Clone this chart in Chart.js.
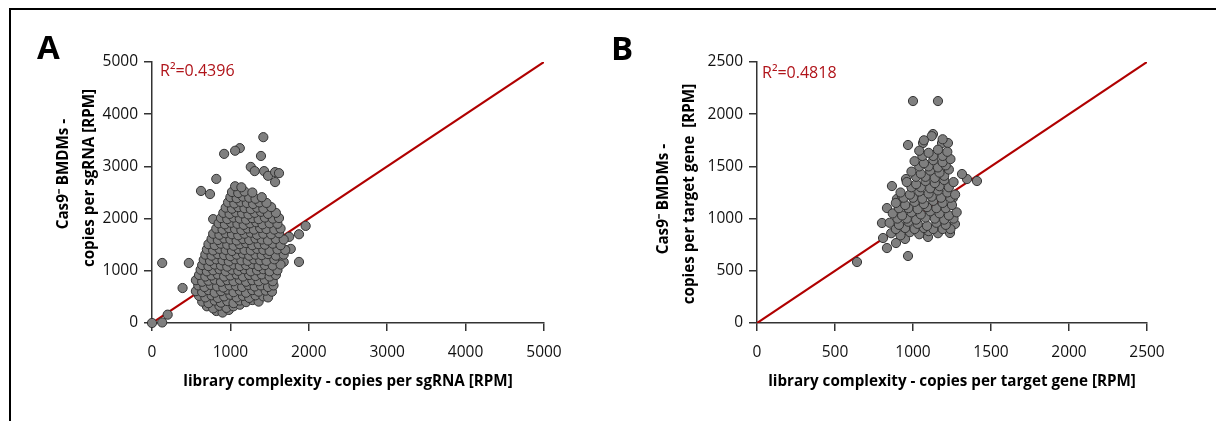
<!DOCTYPE html>
<html>
<head>
<meta charset="utf-8">
<script src="https://cdn.jsdelivr.net/npm/chart.js@4.4.0/dist/chart.umd.min.js"></script>
<style>
  body { margin: 0; width: 1216px; height: 421px; overflow: hidden; background: #fff; position: relative; font-family: "Open Sans", sans-serif; }
  #frame { position: absolute; left: 9px; top: 8px; width: 1300px; height: 500px; border-top: 2px solid #000; border-left: 2px solid #000; }
  canvas { position: absolute; top: 0; }
  #chartA { left: 0; }
  #chartB { left: 606px; }
  .letter { position: absolute; font: bold 33px/1 "Open Sans", sans-serif; color: #000; }
  .r2 { position: absolute; font: 16px/1 "Open Sans", sans-serif; color: #b0141a; white-space: nowrap; }
  .ytitle { position: absolute; font: bold 15.2px/1 "Open Sans", sans-serif; color: #000; white-space: nowrap;
            transform: translate(-50%, -50%) rotate(-90deg); }
</style>
</head>
<body>
<div id="frame"></div>
<canvas id="chartA" width="606" height="421"></canvas>
<canvas id="chartB" width="610" height="421"></canvas>
<div class="letter" style="left:37px;top:30px">A</div>
<div class="letter" style="left:611px;top:31px">B</div>
<div class="r2" style="left:160px;top:62px">R²=0.4396</div>
<div class="r2" style="left:762px;top:64px">R²=0.4818</div>
<div class="ytitle" style="left:63px;top:174px">Cas9⁻ BMDMs -</div>
<div class="ytitle" style="left:89px;top:178px">copies per sgRNA [RPM]</div>
<div class="ytitle" style="left:663px;top:199px">Cas9⁻ BMDMs -</div>
<div class="ytitle" style="left:689px;top:194px">copies per target gene&nbsp; [RPM]</div>
<script>
// panel A: copies per sgRNA [RPM], pairs of [library, Cas9- BMDMs]
const sgrnaPoints = [
  [0,0],[130,10],[200,160],[130,1150],[470,1150],[390,670],
  [1420,3560],[1120,3350],[1060,3300],[920,3240],[1390,3200],
  [1260,2990],[1310,2910],[1430,2910],[1480,2820],[1570,2890],[1620,2870],[1570,2700],
  [820,2760],[625,2530],[740,2470],[780,1990],[1960,1860],[1875,1700],[1875,1170],[1770,1420],[1750,1650],[1680,1170],
  [820,230],[900,200],[980,250],
  [700,320],[780,280],[860,330],[950,290],[1040,320],[1120,350],
  [640,410],[720,380],[800,430],[880,390],[960,420],[1040,380],[1120,430],[1200,400],[1280,440],[1360,410],
  [600,520],[680,490],[760,530],[840,480],[920,510],[1000,540],[1080,490],[1160,520],[1240,480],[1320,530],[1420,510],[1480,490],
  [560,610],[640,590],[720,630],[800,580],[880,610],[960,640],[1040,590],[1120,620],[1200,580],[1280,630],[1360,600],[1450,620],[1530,600],
  [590,720],[670,690],[750,730],[830,700],[910,680],[990,720],[1070,710],[1150,690],[1230,730],[1310,700],[1390,720],[1480,690],[1550,720],
  [560,820],[640,790],[720,810],[800,830],[880,790],[960,820],[1040,800],[1120,830],[1200,790],[1280,820],[1360,800],[1440,830],[1540,800],
  [600,920],[680,890],[760,910],[840,930],[920,890],[1000,910],[1080,930],[1160,890],[1240,920],[1320,900],[1400,930],[1500,890],[1580,920],
  [620,1020],[700,990],[780,1010],[860,1030],[940,990],[1020,1020],[1100,1000],[1180,1030],[1260,990],[1340,1010],[1420,1030],[1500,990],[1600,1010],
  [640,1110],[720,1090],[800,1120],[880,1100],[960,1080],[1040,1120],[1120,1090],[1200,1110],[1280,1130],[1360,1090],[1440,1110],[1540,1100],[1640,1120],
  [660,1210],[740,1190],[820,1220],[900,1200],[980,1180],[1060,1220],[1140,1200],[1220,1190],[1300,1220],[1380,1200],[1460,1190],[1560,1220],
  [680,1310],[760,1290],[840,1320],[920,1300],[1000,1280],[1080,1310],[1160,1330],[1240,1290],[1320,1310],[1400,1300],[1480,1320],[1580,1290],[1680,1310],
  [700,1410],[780,1390],[860,1420],[940,1400],[1020,1380],[1100,1420],[1180,1400],[1260,1390],[1340,1420],[1420,1400],[1500,1380],[1600,1410],[1700,1400],
  [720,1510],[800,1490],[880,1520],[960,1500],[1040,1480],[1120,1510],[1200,1530],[1280,1490],[1360,1510],[1440,1500],[1540,1520],[1640,1490],
  [760,1610],[840,1590],[920,1620],[1000,1600],[1080,1580],[1160,1610],[1240,1590],[1320,1620],[1400,1600],[1480,1580],[1580,1610],[1680,1600],
  [780,1710],[860,1690],[940,1720],[1020,1700],[1100,1680],[1180,1710],[1260,1730],[1340,1690],[1420,1710],[1520,1700],[1620,1720],
  [820,1810],[900,1790],[980,1820],[1060,1800],[1140,1780],[1220,1810],[1300,1790],[1380,1820],[1460,1800],[1560,1790],[1640,1810],
  [850,1910],[930,1890],[1010,1920],[1090,1900],[1170,1880],[1250,1910],[1330,1930],[1410,1890],[1500,1910],[1600,1900],
  [880,2010],[960,1990],[1040,2020],[1120,2000],[1200,1980],[1280,2010],[1360,1990],[1440,2020],[1540,2000],[1620,2010],
  [910,2110],[990,2090],[1070,2120],[1150,2100],[1230,2080],[1310,2110],[1390,2130],[1480,2090],[1580,2110],
  [940,2210],[1020,2190],[1100,2220],[1180,2200],[1260,2180],[1340,2210],[1420,2190],[1520,2220],
  [970,2310],[1050,2290],[1130,2320],[1210,2300],[1290,2280],[1370,2310],[1460,2300],
  [1000,2410],[1080,2390],[1160,2420],[1240,2400],[1320,2380],[1400,2410],
  [1020,2510],[1100,2490],[1180,2520],[1280,2500],
  [1060,2620],[1140,2600]
];

// panel B: copies per target gene [RPM]
const genePoints = [
  [1000,2126],[1160,2126],[1128,1810],[1120,1790],[968,1705],[1064,1724],[1186,1724],[1224,1724],
  [865,1312],[955,1379],[641,584],[968,642],[833,718],[808,814],[891,766],[949,805],[1096,824],[1237,862],
  [1269,948],[801,958],[1410,1360],[1346,1379],[1314,1427],[1256,1197],[833,1101],[897,1188],[929,1216],
  [860,860],[920,840],[980,870],[1040,850],[1100,880],[1160,860],
  [890,900],[950,910],[1010,900],[1070,910],[1130,900],[1190,900],[1240,900],
  [850,960],[910,940],[970,970],[1030,950],[1090,930],[1150,960],[1210,940],
  [900,1000],[960,1000],[1020,990],[1080,1010],[1140,1000],[1200,990],[1260,1000],
  [870,1050],[930,1030],[990,1060],[1050,1040],[1110,1070],[1170,1050],[1230,1030],[1280,1060],
  [910,1100],[970,1100],[1030,1090],[1090,1110],[1150,1100],[1210,1100],
  [890,1150],[950,1130],[1010,1160],[1070,1140],[1130,1170],[1190,1150],[1250,1130],
  [940,1200],[1000,1200],[1060,1190],[1120,1210],[1180,1200],[1240,1200],
  [920,1250],[980,1230],[1040,1260],[1100,1240],[1160,1270],[1220,1250],[1270,1230],
  [990,1300],[1050,1300],[1110,1290],[1170,1310],[1230,1300],
  [960,1350],[1020,1330],[1080,1360],[1140,1340],[1200,1370],[1260,1350],
  [1020,1400],[1080,1400],[1140,1390],[1200,1410],
  [990,1450],[1050,1430],[1110,1460],[1170,1440],[1230,1470],
  [1040,1500],[1100,1500],[1160,1490],[1210,1510],
  [1010,1550],[1070,1530],[1130,1560],[1190,1540],[1240,1570],
  [1060,1600],[1130,1600],[1190,1600],
  [1040,1650],[1100,1630],[1160,1660],[1220,1640],
  [1070,1750],[1190,1760]
];

// identity lines
const fitA = [0, 5000];
const fitB = [0, 2500];

const ticksA = { max: 5000, step: 1000 };
const ticksB = { max: 2500, step: 500 };

const xTitleA = "library complexity - copies per sgRNA [RPM]";
const xTitleB = "library complexity - copies per target gene [RPM]";

const axisColor = "#333";
const fontFamily = "'Open Sans', sans-serif";

function axis(t, tickPad, title, fitSize, horizontal) {
  return {
    type: "linear",
    min: 0,
    max: t.max,
    ticks: { stepSize: t.step, color: "#111", padding: tickPad, maxRotation: 0, autoSkip: false,
             font: { family: fontFamily, size: 15.5 },
             callback: (v) => String(v) },
    grid: { display: true, drawOnChartArea: false, drawTicks: true, tickLength: 8, color: axisColor, lineWidth: 1.5 },
    border: { display: true, color: axisColor, width: 1.5 },
    title: { display: !!title, text: title, color: "#000", padding: { top: 4, bottom: 4 },
             font: { family: fontFamily, size: 15.2, weight: "bold", lineHeight: 1.2 } },
    afterFit: (s) => { if (horizontal) s.height = fitSize; else s.width = fitSize; }
  };
}

function makeChart(id, points, fit, t, xTitle, pad, yWidth) {
  new Chart(document.getElementById(id), {
    type: "scatter",
    data: {
      datasets: [
        {
          data: points.map((p) => ({ x: p[0], y: p[1] })),
          backgroundColor: "#7f7f7f",
          borderColor: "#333",
          borderWidth: 1,
          pointRadius: 4.6,
          clip: false,
          order: 1
        },
        {
          type: "line",
          data: fit.map((v) => ({ x: v, y: v })),
          borderColor: "#b00000",
          borderWidth: 2.2,
          pointRadius: 0,
          showLine: true,
          order: 2
        }
      ]
    },
    options: {
      responsive: false,
      animation: false,
      devicePixelRatio: 1,
      layout: { padding: pad },
      plugins: { legend: { display: false }, tooltip: { enabled: false } },
      scales: {
        x: axis(t, 12, xTitle, 72, true),
        y: axis(t, 6, "", yWidth, false)
      }
    }
  });
}

makeChart("chartA", sgrnaPoints, fitA, ticksA, xTitleA,
  { left: 10, right: 62, top: 62, bottom: 26 }, 142);
makeChart("chartB", genePoints, fitB, ticksB, xTitleB,
  { left: 10, right: 69, top: 62, bottom: 26 }, 141);
</script>
</body>
</html>
